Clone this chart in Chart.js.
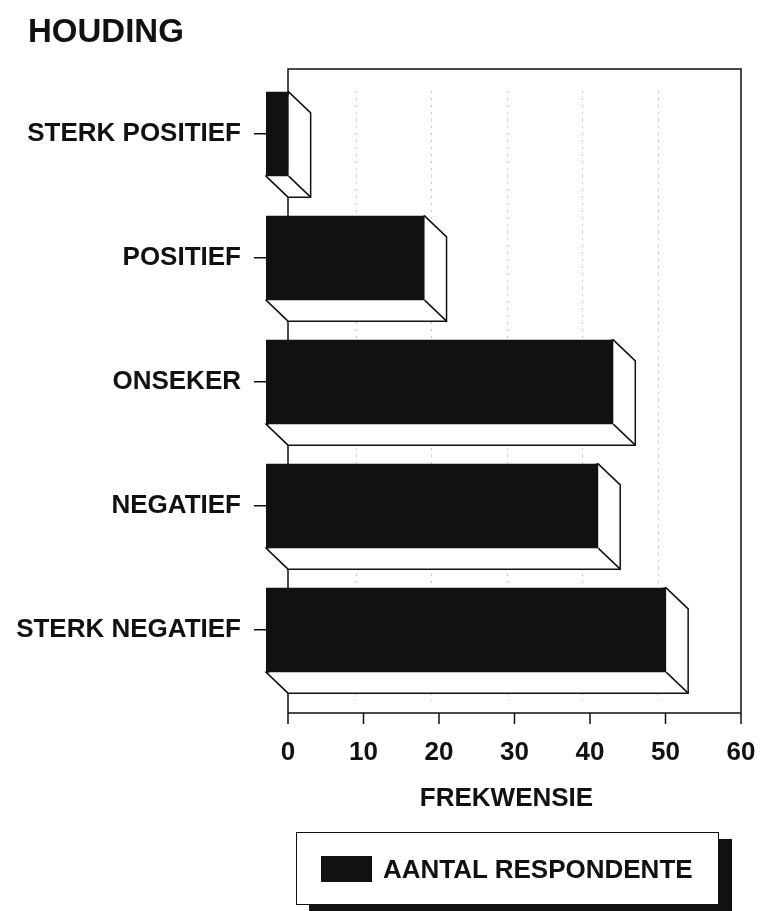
<!DOCTYPE html>
<html>
<head>
<meta charset="utf-8">
<script src="https://cdn.jsdelivr.net/npm/chart.js@4.4.1/dist/chart.umd.min.js"></script>
<style>
  html, body { margin: 0; padding: 0; background: #fff; }
  #wrap { position: relative; width: 761px; height: 911px; overflow: hidden; }
  #houding {
    position: absolute; left: 28px; top: 14px;
    font: bold 33px/33px "Liberation Sans", Arial, sans-serif; color: #111;
  }
  #legend {
    position: absolute; left: 296px; top: 832px; width: 421px; height: 71px;
    border: 1.5px solid #111; background: #fff; box-shadow: 13px 7px 0 #111;
  }
  #legend .swatch {
    position: absolute; left: 24px; top: 23px; width: 51px; height: 26px; background: #111;
  }
  #legend .text {
    position: absolute; left: 86px; top: 22px;
    font: bold 26px/28px "Liberation Sans", Arial, sans-serif; color: #111; white-space: nowrap;
  }
</style>
</head>
<body>
<div id="wrap">
  <canvas id="houdingChart" width="761" height="911"></canvas>
  <div id="houding">HOUDING</div>
  <div id="legend"><div class="swatch"></div><div class="text">AANTAL RESPONDENTE</div></div>
</div>
<script>
// attitude categories and the number of respondents in each
const categories = ["STERK POSITIEF", "POSITIEF", "ONSEKER", "NEGATIEF", "STERK NEGATIEF"];
const respondents = [3, 21, 46, 44, 53];
const xTicks = [0, 10, 20, 30, 40, 50, 60];
const axisTitle = "FREKWENSIE";

const FONT = "'Liberation Sans', Arial, sans-serif";
const INK = "#111";
const depth = { dx: 22, dy: 21 }; // 3D offset of the box and bars

// back wall, gridlines and the white sides of each bar
const box3d = {
  id: "box3d",
  beforeDatasetsDraw(chart) {
    const { ctx, chartArea, scales } = chart;
    const x = scales.x;
    const left = x.getPixelForValue(xTicks[0]) + depth.dx;
    const right = x.getPixelForValue(xTicks[xTicks.length - 1]) + depth.dx;
    const top = chartArea.top - 3;
    const floor = chartArea.bottom + depth.dy;

    ctx.save();
    ctx.strokeStyle = "#c4c4c4";
    ctx.lineWidth = 1;
    ctx.setLineDash([2, 5]);
    xTicks.slice(1, -1).forEach(v => {
      const gx = Math.round(x.getPixelForValue(v) + depth.dx - 8) + 0.5;
      ctx.beginPath();
      ctx.moveTo(gx, top + 22);
      ctx.lineTo(gx, floor - 12);
      ctx.stroke();
    });
    ctx.setLineDash([]);

    ctx.strokeStyle = INK;
    ctx.lineWidth = 1.5;
    ctx.beginPath();
    ctx.moveTo(left, floor);
    ctx.lineTo(left, top);
    ctx.lineTo(right, top);
    ctx.lineTo(right, floor);
    ctx.stroke();

    // extruded faces of the bars
    const meta = chart.getDatasetMeta(0);
    ctx.fillStyle = "#fff";
    ctx.lineJoin = "miter";
    meta.data.forEach(bar => {
      const p = bar.getProps(["x", "y", "base", "height"], true);
      const x0 = p.base, x1 = p.x;
      const t = p.y - p.height / 2, b = p.y + p.height / 2;
      ctx.beginPath();
      ctx.moveTo(x1, t);
      ctx.lineTo(x1 + depth.dx, t + depth.dy);
      ctx.lineTo(x1 + depth.dx, b + depth.dy);
      ctx.lineTo(x0 + depth.dx, b + depth.dy);
      ctx.lineTo(x0, b);
      ctx.closePath();
      ctx.fill();
      ctx.stroke();
      ctx.beginPath();
      ctx.moveTo(x1, b);
      ctx.lineTo(x1 + depth.dx, b + depth.dy);
      ctx.stroke();
    });
    ctx.restore();
  },
  afterDraw(chart) {
    const { ctx, chartArea, scales } = chart;
    const x = scales.x;
    const axisY = chartArea.bottom + depth.dy;
    const left = x.getPixelForValue(xTicks[0]) + depth.dx;
    const right = x.getPixelForValue(xTicks[xTicks.length - 1]) + depth.dx;

    ctx.save();
    ctx.strokeStyle = INK;
    ctx.lineWidth = 1.5;
    ctx.beginPath();
    ctx.moveTo(left, axisY);
    ctx.lineTo(right, axisY);
    xTicks.forEach(v => {
      const tx = x.getPixelForValue(v) + depth.dx;
      ctx.moveTo(tx, axisY);
      ctx.lineTo(tx, axisY + 11);
    });
    ctx.stroke();

    ctx.fillStyle = INK;
    ctx.font = "bold 26px " + FONT;
    ctx.textAlign = "center";
    ctx.textBaseline = "middle";
    ctx.fillText(axisTitle, x.getPixelForValue(30) + 14, 799);
    ctx.restore();
  }
};

new Chart(document.getElementById("houdingChart"), {
  type: "bar",
  data: {
    labels: categories,
    datasets: [{
      label: "AANTAL RESPONDENTE",
      data: respondents,
      backgroundColor: INK,
      borderWidth: 0,
      barPercentage: 0.68,
      categoryPercentage: 1
    }]
  },
  options: {
    indexAxis: "y",
    responsive: false,
    animation: false,
    devicePixelRatio: 1,
    layout: { padding: { top: 72, right: 42, left: 0, bottom: 0 } },
    plugins: {
      legend: { display: false },
      tooltip: { enabled: false }
    },
    scales: {
      x: {
        min: xTicks[0],
        max: xTicks[xTicks.length - 1],
        afterBuildTicks: scale => { scale.ticks = xTicks.map(v => ({ value: v })); },
        afterFit: scale => {
          scale.height = 219;
          scale.paddingLeft = 0;
          scale.paddingRight = 0;
        },
        grid: { display: false, drawTicks: false },
        border: { display: false },
        ticks: {
          color: INK,
          font: { family: FONT, size: 26, weight: "bold" },
          padding: 45,
          labelOffset: depth.dx,
          maxRotation: 0
        }
      },
      y: {
        afterFit: scale => {
          scale.width = 266;
          scale.paddingTop = 0;
          scale.paddingBottom = 0;
        },
        grid: { offset: false, drawOnChartArea: false, drawTicks: true, tickLength: 12, color: INK, lineWidth: 1.5 },
        border: { display: false },
        ticks: {
          color: INK,
          font: { family: FONT, size: 26, weight: "bold" },
          padding: 13
        }
      }
    }
  },
  plugins: [box3d]
});
</script>
</body>
</html>
